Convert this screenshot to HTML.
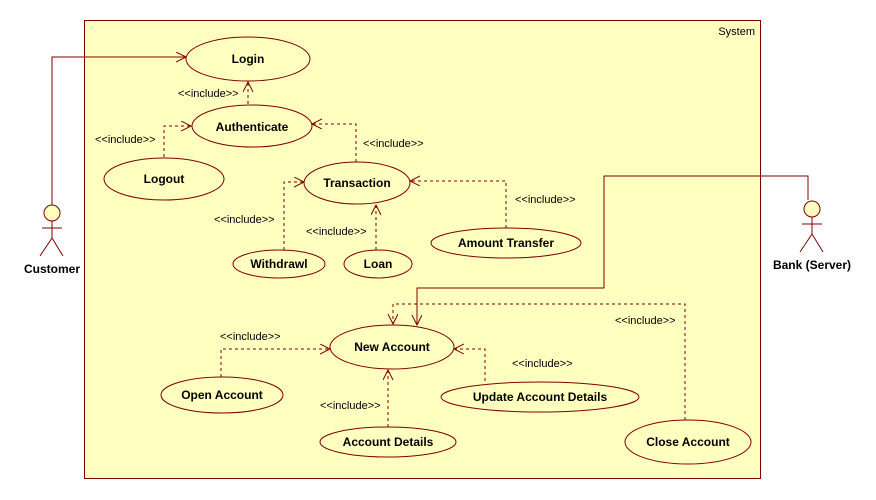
<!DOCTYPE html>
<html><head><meta charset="utf-8"><style>
html,body{margin:0;padding:0;background:#fff}
svg{display:block}
text{font-family:"Liberation Sans",sans-serif;fill:#000}
.b{font-weight:bold;font-size:12px}
.i{font-size:11px}
</style></head><body>
<svg width="876" height="500" viewBox="0 0 876 500" xmlns="http://www.w3.org/2000/svg">
<defs>
<marker id="a" markerWidth="12" markerHeight="12" refX="10" refY="5" orient="auto" markerUnits="userSpaceOnUse">
<path d="M0,0 L10,5 L0,10" fill="none" stroke="#800000" stroke-width="1"/>
</marker>
</defs>
<rect x="84.5" y="20.5" width="676" height="458" fill="#ffffc0" stroke="#800000"/>
<text x="755" y="35" class="i" text-anchor="end">System</text>
<g stroke="#800000" fill="none">
<polyline points="52,205 52,57 186,57" marker-end="url(#a)"/>
<polyline points="808,200 808,176 604,176 604,288 417,288 417,325" marker-end="url(#a)"/>
<g stroke-dasharray="3,3">
<polyline points="248,104 248,82" marker-end="url(#a)"/>
<polyline points="164,157 164,126 191,126" marker-end="url(#a)"/>
<polyline points="356,162 356,124 312,124" marker-end="url(#a)"/>
<polyline points="284,250 284,182 304,182" marker-end="url(#a)"/>
<polyline points="376,250 376,205" marker-end="url(#a)"/>
<polyline points="506,228 506,181 410,181" marker-end="url(#a)"/>
<polyline points="685,420 685,304 393,304 393,324" marker-end="url(#a)"/>
<polyline points="221,377 221,349 330,349" marker-end="url(#a)"/>
<polyline points="388,427 388,370" marker-end="url(#a)"/>
<polyline points="485,381 485,349 454,349" marker-end="url(#a)"/>
</g>
<g fill="#ffffc0">
<ellipse cx="248" cy="59" rx="62" ry="22"/>
<ellipse cx="252" cy="126" rx="60" ry="21"/>
<ellipse cx="164" cy="179" rx="60" ry="21"/>
<ellipse cx="357" cy="183" rx="53" ry="21"/>
<ellipse cx="279" cy="264" rx="46" ry="14"/>
<ellipse cx="378" cy="264" rx="34" ry="14"/>
<ellipse cx="506" cy="243" rx="75" ry="15"/>
<ellipse cx="392" cy="347" rx="62" ry="22"/>
<ellipse cx="222" cy="395" rx="61" ry="18"/>
<ellipse cx="540" cy="397" rx="99" ry="15"/>
<ellipse cx="388" cy="442" rx="68" ry="15"/>
<ellipse cx="688" cy="442" rx="63" ry="22"/>
<circle cx="52" cy="213" r="8"/>
<circle cx="812" cy="209" r="8"/>
</g>
<path d="M52,221V238M42,228H62M52,238L40,256M52,238L63,256"/>
<path d="M812,217V234M802,224H822M812,234L800,252M812,234L823,252"/>
</g>
<g class="b" text-anchor="middle">
<text x="248" y="63">Login</text>
<text x="252" y="131">Authenticate</text>
<text x="164" y="183">Logout</text>
<text x="357" y="187">Transaction</text>
<text x="279" y="268">Withdrawl</text>
<text x="378" y="268">Loan</text>
<text x="506" y="247">Amount Transfer</text>
<text x="392" y="351">New Account</text>
<text x="222" y="399">Open Account</text>
<text x="540" y="401">Update Account Details</text>
<text x="388" y="446">Account Details</text>
<text x="688" y="446">Close Account</text>
<text x="52" y="273">Customer</text>
<text x="812" y="269">Bank (Server)</text>
</g>
<g class="i">
<text x="178" y="97">&lt;&lt;include&gt;&gt;</text>
<text x="95" y="143">&lt;&lt;include&gt;&gt;</text>
<text x="363" y="147">&lt;&lt;include&gt;&gt;</text>
<text x="214" y="223">&lt;&lt;include&gt;&gt;</text>
<text x="306" y="235">&lt;&lt;include&gt;&gt;</text>
<text x="515" y="203">&lt;&lt;include&gt;&gt;</text>
<text x="220" y="340">&lt;&lt;include&gt;&gt;</text>
<text x="320" y="409">&lt;&lt;include&gt;&gt;</text>
<text x="512" y="367">&lt;&lt;include&gt;&gt;</text>
<text x="615" y="324">&lt;&lt;include&gt;&gt;</text>
</g>
</svg>
</body></html>
